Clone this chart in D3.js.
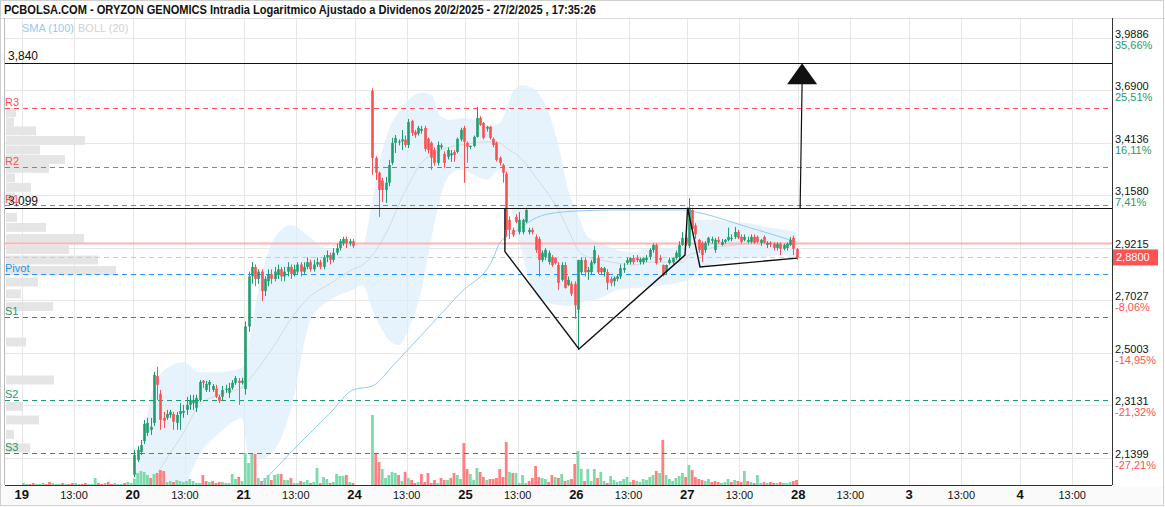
<!DOCTYPE html>
<html>
<head>
<meta charset="utf-8">
<script src="https://cdn.jsdelivr.net/npm/d3@7"></script>
<style>
  body { margin: 0; background: #fff; }
  svg { display: block; }
  text { font-family: "Liberation Sans", Arial, sans-serif; }
</style>
</head>
<body>
<svg id="chart" width="1165" height="507"></svg>
<script>
// ---- data ----
const title = "PCBOLSA.COM - ORYZON GENOMICS Intradia Logaritmico Ajustado a Dividenos 20/2/2025 - 27/2/2025 , 17:35:26";
const days = ["19", "20", "21", "24", "25", "26", "27", "28", "3", "4"];
const slotsPerDay = 34;          // 15 min candles, 9:00 - 17:30
const priceExtent = [2.056, 4.106];
const slotExtent = [-5.15, 334.2];

// candles [open, high, low, close]
const d19 = [[1.97,1.98,1.96,1.975],[1.975,1.99,1.97,1.98],[1.98,1.985,1.965,1.97],[1.97,1.98,1.96,1.965],[1.965,1.975,1.955,1.97],[1.97,1.98,1.96,1.975],[1.975,1.99,1.97,1.985],[1.985,1.99,1.97,1.975],[1.975,1.98,1.96,1.965],[1.965,1.975,1.955,1.97],[1.97,1.985,1.965,1.98],[1.98,1.99,1.975,1.985],[1.985,1.99,1.97,1.975],[1.975,1.985,1.965,1.98],[1.98,1.99,1.97,1.975],[1.975,1.98,1.96,1.97],[1.97,1.98,1.965,1.975],[1.975,1.99,1.97,1.985],[1.985,1.995,1.975,1.98],[1.98,1.99,1.97,1.975],[1.975,1.985,1.965,1.98],[1.98,1.99,1.975,1.985],[1.985,2.0,1.98,1.995],[1.995,2.0,1.98,1.985],[1.985,1.99,1.975,1.98],[1.98,1.995,1.975,1.99],[1.99,2.0,1.98,1.985],[1.985,1.99,1.975,1.98],[1.98,1.99,1.97,1.985],[1.985,1.995,1.98,1.99],[1.99,2.0,1.985,1.995],[1.995,2.0,1.98,1.985],[1.985,1.995,1.975,1.99],[1.99,2.0,1.98,1.995]];
const d20 = [[2.088,2.166,2.08,2.149],[2.134,2.178,2.127,2.166],[2.159,2.198,2.149,2.181],[2.194,2.264,2.185,2.251],[2.221,2.271,2.211,2.254],[2.231,2.271,2.214,2.241],[2.254,2.431,2.244,2.42],[2.416,2.449,2.332,2.385],[2.353,2.367,2.231,2.264],[2.271,2.291,2.237,2.261],[2.271,2.298,2.264,2.284],[2.281,2.298,2.271,2.291],[2.284,2.291,2.231,2.258],[2.254,2.291,2.231,2.281],[2.284,2.321,2.231,2.294],[2.288,2.315,2.271,2.294],[2.298,2.343,2.281,2.315],[2.315,2.35,2.298,2.332],[2.321,2.35,2.298,2.332],[2.305,2.35,2.291,2.339],[2.332,2.402,2.325,2.395],[2.399,2.402,2.374,2.392],[2.367,2.399,2.36,2.388],[2.385,2.402,2.36,2.395],[2.367,2.388,2.36,2.381],[2.371,2.385,2.339,2.343],[2.343,2.35,2.321,2.329],[2.343,2.381,2.332,2.367],[2.371,2.385,2.357,2.371],[2.357,2.392,2.339,2.374],[2.374,2.402,2.367,2.392],[2.392,2.416,2.385,2.409],[2.399,2.409,2.315,2.392],[2.392,2.41,2.386,2.399]];
const d21 = [[2.37,2.62,2.35,2.60],[2.60,2.82,2.58,2.80],[2.80,2.86,2.77,2.84],[2.84,2.85,2.76,2.79],[2.79,2.83,2.77,2.82],[2.82,2.83,2.70,2.74],[2.74,2.80,2.72,2.79],[2.78,2.83,2.76,2.81],[2.81,2.83,2.77,2.79],[2.79,2.84,2.78,2.82],[2.81,2.85,2.79,2.83],[2.83,2.84,2.78,2.80],[2.80,2.84,2.78,2.82],[2.82,2.86,2.80,2.84],[2.84,2.85,2.79,2.81],[2.81,2.85,2.80,2.83],[2.82,2.86,2.81,2.85],[2.85,2.86,2.80,2.82],[2.82,2.86,2.81,2.84],[2.84,2.88,2.83,2.86],[2.86,2.87,2.82,2.83],[2.83,2.87,2.82,2.85],[2.85,2.88,2.84,2.86],[2.86,2.87,2.83,2.84],[2.84,2.89,2.83,2.88],[2.88,2.91,2.86,2.89],[2.89,2.90,2.85,2.87],[2.87,2.92,2.86,2.90],[2.90,2.94,2.89,2.92],[2.92,2.96,2.91,2.95],[2.94,2.97,2.93,2.96],[2.96,2.97,2.92,2.94],[2.94,2.96,2.93,2.95],[2.95,2.96,2.92,2.93]];
const d24 = [null,null,null,null,null,[3.686,3.70,3.255,3.338],[3.338,3.345,3.23,3.265],[3.265,3.27,3.058,3.183],[3.226,3.241,3.127,3.183],[3.183,3.245,3.122,3.217],[3.217,3.328,3.20,3.303],[3.313,3.438,3.303,3.413],[3.413,3.453,3.362,3.438],[3.418,3.43,3.40,3.42],[3.42,3.479,3.377,3.43],[3.43,3.45,3.39,3.402],[3.402,3.536,3.387,3.52],[3.525,3.531,3.448,3.464],[3.469,3.479,3.438,3.453],[3.46,3.50,3.45,3.49],[3.474,3.50,3.46,3.484],[3.489,3.50,3.37,3.382],[3.433,3.44,3.36,3.377],[3.413,3.42,3.279,3.338],[3.377,3.39,3.30,3.313],[3.313,3.42,3.30,3.402],[3.39,3.41,3.38,3.40],[3.357,3.37,3.289,3.313],[3.343,3.39,3.33,3.377],[3.35,3.377,3.318,3.36],[3.367,3.377,3.318,3.352],[3.367,3.44,3.36,3.433],[3.43,3.49,3.42,3.479],[3.489,3.50,3.217,3.418]];
const d25 = [[3.413,3.42,3.313,3.393],[3.393,3.40,3.38,3.397],[3.397,3.45,3.39,3.443],[3.443,3.60,3.44,3.541],[3.541,3.55,3.50,3.505],[3.515,3.52,3.43,3.438],[3.485,3.50,3.47,3.495],[3.495,3.50,3.43,3.438],[3.433,3.44,3.39,3.402],[3.413,3.42,3.32,3.328],[3.338,3.345,3.30,3.313],[3.303,3.31,3.217,3.265],[3.26,3.27,2.97,3.00],[3.045,3.06,2.96,3.00],[3.00,3.01,2.97,2.978],[3.058,3.07,3.03,3.036],[2.99,3.08,2.98,3.045],[2.99,3.05,2.98,3.045],[3.036,3.10,3.03,3.09],[2.99,3.01,2.98,3.00],[3.00,3.01,2.98,2.99],[2.969,2.98,2.90,2.912],[2.96,2.97,2.80,2.869],[2.869,2.91,2.86,2.90],[2.882,2.92,2.87,2.912],[2.86,2.91,2.85,2.90],[2.882,2.89,2.84,2.848],[2.878,2.88,2.85,2.856],[2.848,2.86,2.745,2.774],[2.786,2.86,2.78,2.848],[2.848,2.86,2.75,2.753],[2.765,2.80,2.76,2.786],[2.77,2.78,2.72,2.729],[2.77,2.78,2.63,2.683]];
const d26 = [[2.665,2.87,2.511,2.869],[2.818,2.88,2.81,2.869],[2.869,2.88,2.80,2.818],[2.818,2.84,2.786,2.827],[2.818,2.87,2.81,2.86],[2.856,2.93,2.85,2.912],[2.878,2.89,2.81,2.818],[2.835,2.84,2.81,2.818],[2.818,2.84,2.80,2.835],[2.818,2.83,2.745,2.774],[2.79,2.80,2.76,2.774],[2.78,2.80,2.76,2.795],[2.79,2.81,2.78,2.80],[2.80,2.85,2.79,2.835],[2.827,2.856,2.815,2.835],[2.856,2.88,2.85,2.869],[2.86,2.88,2.85,2.878],[2.878,2.89,2.85,2.86],[2.878,2.89,2.86,2.869],[2.86,2.88,2.85,2.873],[2.86,2.88,2.85,2.878],[2.869,2.89,2.86,2.878],[2.882,2.92,2.87,2.912],[2.912,2.94,2.90,2.934],[2.934,2.94,2.85,2.856],[2.878,2.89,2.86,2.869],[2.848,2.85,2.80,2.805],[2.82,2.85,2.81,2.848],[2.856,2.88,2.85,2.869],[2.86,2.88,2.85,2.878],[2.878,2.91,2.87,2.90],[2.882,2.95,2.87,2.934],[2.934,2.99,2.93,2.965],[2.965,2.98,2.93,2.94]];
const d27 = [[2.93,3.145,2.92,3.10],[3.09,3.10,2.99,3.004],[3.02,3.03,2.96,2.98],[2.956,2.96,2.90,2.912],[2.943,2.95,2.86,2.89],[2.912,2.95,2.90,2.943],[2.943,2.97,2.93,2.965],[2.952,2.97,2.94,2.96],[2.912,2.965,2.90,2.956],[2.956,2.97,2.94,2.947],[2.934,2.96,2.93,2.947],[2.947,2.96,2.94,2.956],[2.956,3.01,2.95,2.969],[2.96,2.98,2.95,2.965],[2.969,3.013,2.96,2.991],[2.991,3.00,2.96,2.965],[2.969,2.98,2.94,2.947],[2.956,2.98,2.95,2.969],[2.947,2.97,2.94,2.956],[2.947,2.98,2.94,2.969],[2.969,2.98,2.94,2.943],[2.969,2.975,2.94,2.947],[2.943,2.96,2.93,2.956],[2.969,2.975,2.94,2.943],[2.934,2.95,2.92,2.943],[2.943,2.95,2.925,2.936],[2.939,2.945,2.91,2.921],[2.921,2.945,2.91,2.939],[2.939,2.945,2.89,2.917],[2.917,2.94,2.91,2.934],[2.921,2.945,2.91,2.939],[2.934,2.969,2.93,2.956],[2.965,2.975,2.89,2.917],[2.917,2.92,2.87,2.88]];

// volume per candle (thousands)
const v19 = [10,5,5,10,5,5,10,5,15,10,5,5,10,5,5,10,10,5,5,10,5,5,35,10,5,10,15,5,10,5,5,10,15,10];
const v20 = [30,60,70,65,50,35,55,60,75,70,15,20,15,25,20,15,20,30,20,10,10,50,20,15,20,10,15,15,10,10,55,30,40,20];
const v21 = [160,110,160,155,35,20,35,50,25,50,55,55,25,25,35,10,10,20,15,25,10,15,85,10,40,30,10,15,55,45,45,50,15,10];
const v24 = [0,0,0,0,0,350,160,115,80,35,50,65,60,50,20,65,35,25,10,15,55,15,60,10,25,10,35,25,25,35,60,50,30,210];
const v25 = [80,55,25,85,65,40,25,30,30,35,80,40,215,65,60,60,10,50,10,20,35,95,40,35,30,15,50,40,35,55,20,25,30,105];
const v26 = [170,80,20,80,20,80,35,65,20,10,45,25,15,20,30,40,15,25,20,15,30,25,40,50,70,60,225,50,30,20,35,45,60,40];
const v27 = [100,75,40,30,25,20,30,15,20,15,10,15,30,15,25,20,15,70,20,15,10,50,10,15,10,15,10,10,15,10,10,15,20,25];

// bollinger (20), sampled by candle index (day 19 = 0..33)
const bandIdx = [34,37,40,44,49,54,60,67,69,72,77,82,88,94,101,104,107,110,112,115,118,122,125,128,131,134,138,142,146,148,150,153,155,157,160,164,167,170,173,177,182,187,192,197,202,204,207,211,216,222,228,232,237];
const bandUp = [2.07,2.23,2.38,2.445,2.467,2.43,2.43,2.445,2.53,2.745,2.965,3.022,2.965,2.912,2.934,2.934,3.136,3.377,3.479,3.572,3.637,3.675,3.664,3.546,3.531,3.541,3.531,3.495,3.515,3.583,3.68,3.718,3.707,3.691,3.61,3.402,3.183,3.067,2.969,2.943,2.912,2.903,2.921,2.921,2.934,3.022,3.045,3.045,3.036,3.031,3.013,3.004,2.991];
const bandMid = [2.00,2.03,2.075,2.14,2.22,2.315,2.35,2.375,2.40,2.445,2.53,2.63,2.72,2.77,2.83,2.848,2.89,2.956,3.009,3.113,3.207,3.313,3.352,3.377,3.392,3.402,3.413,3.418,3.413,3.387,3.367,3.328,3.289,3.245,3.183,3.09,3.0,2.912,2.882,2.869,2.856,2.848,2.86,2.86,2.86,2.89,2.903,2.921,2.93,2.939,2.943,2.943,2.934];
const bandLo = [1.98,1.95,1.92,1.95,2.04,2.15,2.22,2.27,2.15,2.134,2.166,2.298,2.625,2.704,2.745,2.765,2.665,2.587,2.549,2.53,2.587,2.745,2.956,3.16,3.26,3.279,3.255,3.231,3.279,3.207,3.067,2.89,2.786,2.724,2.696,2.684,2.68,2.692,2.70,2.712,2.745,2.753,2.757,2.765,2.778,2.786,2.827,2.848,2.869,2.877,2.882,2.89,2.877];

// sma (100), sampled
const smaIdx = [70,85,94,101,107,114,124,134,144,146,152,156,161,171,182,202,206,211,216,222,227,232,237];
const smaVal = [2.03,2.19,2.287,2.367,2.381,2.463,2.594,2.733,2.877,2.943,3.004,3.045,3.072,3.086,3.09,3.09,3.081,3.063,3.04,3.013,2.991,2.969,2.947];

// pivots
const pivNames = ["R3", "R2", "R1", "Pivot", "S1", "S2", "S3"];
const pivVals = [3.594, 3.293, 3.113, 2.811, 2.637, 2.332, 2.156];

// volume profile (left)
const profPrice = [3.570,3.520,3.474,3.425,3.377,3.330,3.286,3.240,3.195,3.150,3.056,3.011,2.962,2.914,2.869,2.825,2.777,2.729,2.678,2.541,2.402,2.310,2.264,2.216,2.172];
const profVol = [100,80,300,790,340,590,430,90,250,90,110,400,780,630,920,1100,320,150,470,200,480,170,330,80,240];

// right axis
const tickVals = [3.9886, 3.69, 3.4136, 3.158, 2.9215, 2.7027, 2.5003, 2.3131, 2.1399];
const tickPct = ["35,66%", "25,51%", "16,11%", "7,41%", "-0,63%", "-8,06%", "-14,95%", "-21,32%", "-27,21%"];
const lastPrice = 2.88, prevClose = 2.94;

// drawn analysis (slot position, price)
const hLevels = [3.84, 3.099];
const hLabels = ["3,840", "3,099"];
const patSlot = [148.1, 148.1, 170.8, 203.3, 204.1, 207.9, 237.7];
const patVal = [3.099, 2.905, 2.515, 2.89, 3.10, 2.84, 2.877];
const arrowSlot = [238.6, 239.2], arrowFrom = 3.099, arrowTo = 3.84;

// ---- chart ----
const svg = d3.select("#chart");
const P = { l: 5, r: 1112, t: 18, b: 485 };
const green = "#1e9e6e", red = "#fb5050";

const x = d3.scaleLinear().domain(slotExtent).range([P.l, P.r]);
const y = d3.scaleLog().domain(priceExtent).range([P.b, P.t]);

svg.append("rect").attr("width", 1165).attr("height", 507).attr("fill", "#fff");

svg.append("defs").append("clipPath").attr("id", "clip")
  .append("rect").attr("x", P.l).attr("y", P.t).attr("width", P.r - P.l).attr("height", P.b - P.t);

// grid
const xTicks = [];
days.forEach((d, k) => {
  xTicks.push({ s: k * slotsPerDay, label: d, day: true });
  xTicks.push({ s: k * slotsPerDay + 16, label: "13:00", day: false });
});
const grid = svg.append("g");
grid.selectAll(".vg").data(xTicks.filter(t => x(t.s) > P.l && x(t.s) < P.r)).enter().append("line")
  .attr("x1", d => Math.round(x(d.s)) + 0.5).attr("x2", d => Math.round(x(d.s)) + 0.5)
  .attr("y1", P.t).attr("y2", P.b).attr("stroke", "#e7e7e7");
grid.selectAll(".hg").data(tickVals).enter().append("line")
  .attr("x1", P.l).attr("x2", P.r)
  .attr("y1", d => Math.round(y(d)) + 0.5).attr("y2", d => Math.round(y(d)) + 0.5)
  .attr("stroke", "#e7e7e7");

const main = svg.append("g").attr("clip-path", "url(#clip)");

// volume profile
const pw = d3.scaleLinear().domain([0, d3.max(profVol)]).range([0, 110]);
main.selectAll(".prof").data(profPrice).enter().append("rect")
  .attr("x", P.l + 1)
  .attr("y", d => y(d * 1.0066))
  .attr("width", (d, i) => pw(profVol[i]))
  .attr("height", d => y(d / 1.0066) - y(d * 1.0066))
  .attr("fill", "#e2e2e2").attr("opacity", 0.9);

// bollinger band
const band = bandIdx.map((k, i) => ({ k: k, up: bandUp[i], mid: bandMid[i], lo: bandLo[i] }));
main.append("path").datum(band)
  .attr("d", d3.area().x(d => x(d.k + 0.5)).y0(d => y(d.lo)).y1(d => y(d.up)).curve(d3.curveMonotoneX))
  .attr("fill", "#dbeefc").attr("opacity", 0.7);
main.append("path").datum(band)
  .attr("d", d3.line().x(d => x(d.k + 0.5)).y(d => y(d.mid)).curve(d3.curveMonotoneX))
  .attr("fill", "none").attr("stroke", "#d9d9d9").attr("stroke-width", 1);

// candles list
const candles = [];
[d19, d20, d21, d24, d25, d26, d27].forEach((arr, k) => {
  const vols = [v19, v20, v21, v24, v25, v26, v27][k];
  arr.forEach((c, j) => {
    if (c) candles.push({ s: k * slotsPerDay + j, o: c[0], h: c[1], l: c[2], c: c[3], v: vols[j] });
  });
});
candles.forEach((d, i) => { d.up = i === 0 ? true : d.c >= candles[i - 1].c; });

// volume bars
const yv = d3.scaleLinear().domain([0, d3.max(candles, d => d.v)]).range([P.b, P.b - 70]);
main.selectAll(".vol").data(candles).enter().append("rect")
  .attr("x", d => x(d.s + 0.5) - 1.4).attr("width", 2.8)
  .attr("y", d => yv(d.v)).attr("height", d => P.b - yv(d.v))
  .attr("fill", d => d.up ? "#7fdaaa" : "#ff8080");

// pivot lines
const pivColor = n => n[0] === "R" ? "#ff5252" : n[0] === "P" ? "#2196f3" : "#1f9a6c";
main.selectAll(".piv").data(pivVals).enter().append("line")
  .attr("x1", P.l).attr("x2", P.r)
  .attr("y1", d => Math.round(y(d)) + 0.5).attr("y2", d => Math.round(y(d)) + 0.5)
  .attr("stroke", (d, i) => pivColor(pivNames[i])).attr("stroke-dasharray", "5,4");

// previous close and last price
main.append("line").attr("x1", P.l).attr("x2", P.r).attr("y1", y(prevClose)).attr("y2", y(prevClose))
  .attr("stroke", "#ffb3b3").attr("stroke-width", 2);
main.append("line").attr("x1", P.l).attr("x2", P.r).attr("y1", y(lastPrice)).attr("y2", y(lastPrice))
  .attr("stroke", "#a8dcc0").attr("stroke-dasharray", "5,4");

// sma
main.append("path").datum(smaIdx.map((k, i) => [k, smaVal[i]]))
  .attr("d", d3.line().x(d => x(d[0] + 0.5)).y(d => y(d[1])).curve(d3.curveMonotoneX))
  .attr("fill", "none").attr("stroke", "#90caf9").attr("stroke-width", 1);

// candles
const cg = main.append("g");
cg.selectAll(".wick").data(candles).enter().append("line")
  .attr("x1", d => Math.round(x(d.s + 0.5)) + 0.5).attr("x2", d => Math.round(x(d.s + 0.5)) + 0.5)
  .attr("y1", d => y(d.h)).attr("y2", d => y(d.l))
  .attr("stroke", d => d.c >= d.o ? green : red);
cg.selectAll(".body").data(candles).enter().append("rect")
  .attr("x", d => Math.round(x(d.s + 0.5)) - 0.8).attr("width", 2.6)
  .attr("y", d => y(Math.max(d.o, d.c)))
  .attr("height", d => Math.max(1, y(Math.min(d.o, d.c)) - y(Math.max(d.o, d.c))))
  .attr("fill", d => d.c >= d.o ? green : red);

// drawn lines
main.selectAll(".hl").data(hLevels).enter().append("line")
  .attr("x1", P.l).attr("x2", P.r)
  .attr("y1", d => Math.round(y(d)) + 0.5).attr("y2", d => Math.round(y(d)) + 0.5)
  .attr("stroke", "#111").attr("stroke-width", 1.2);
main.append("path").datum(patSlot.map((s, i) => [s, patVal[i]]))
  .attr("d", d3.line().x(d => x(d[0])).y(d => y(d[1])))
  .attr("fill", "none").attr("stroke", "#111").attr("stroke-width", 1.4);
const ax0 = x(arrowSlot[0]), ax = x(arrowSlot[1]), ay = y(arrowTo);
main.append("line").attr("x1", ax0).attr("x2", ax).attr("y1", y(arrowFrom)).attr("y2", ay + 20)
  .attr("stroke", "#111").attr("stroke-width", 1.2);
main.append("path").attr("d", `M${ax},${ay}L${ax - 15},${ay + 21}L${ax + 15},${ay + 21}Z`).attr("fill", "#111");

// labels on plot
svg.selectAll(".hlab").data(hLevels).enter().append("text")
  .attr("x", 8).attr("y", d => y(d) - 3).attr("font-size", 12).attr("fill", "#111")
  .text((d, i) => hLabels[i]);
svg.selectAll(".plab").data(pivVals).enter().append("text")
  .attr("x", 5).attr("y", d => y(d) - 2).attr("font-size", 11)
  .attr("fill", (d, i) => pivColor(pivNames[i]))
  .text((d, i) => pivNames[i]);

svg.append("text").attr("x", 22).attr("y", 32).attr("font-size", 11).attr("fill", "#90caf9").text("SMA (100)");
svg.append("text").attr("x", 78).attr("y", 32).attr("font-size", 11).attr("fill", "#d2d2d2").text("BOLL (20)");

// frame
svg.append("line").attr("x1", 0).attr("x2", 1165).attr("y1", P.t + 0.5).attr("y2", P.t + 0.5).attr("stroke", "#ddd");
svg.append("line").attr("x1", P.l - 0.5).attr("x2", P.l - 0.5).attr("y1", P.t).attr("y2", P.b).attr("stroke", "#bbb");
svg.append("line").attr("x1", P.r + 0.5).attr("x2", P.r + 0.5).attr("y1", P.t).attr("y2", P.b).attr("stroke", "#333");
svg.append("rect").attr("x", 0).attr("y", P.b + 1).attr("width", 1165).attr("height", 507 - P.b - 1).attr("fill", "#fafafa");
svg.append("line").attr("x1", P.l).attr("x2", P.r).attr("y1", P.b + 0.5).attr("y2", P.b + 0.5).attr("stroke", "#333");
svg.append("rect").attr("x", 0.5).attr("y", 0.5).attr("width", 1163).attr("height", 505)
  .attr("fill", "none").attr("stroke", "#cfcfcf");

// title
svg.append("text").attr("x", 4).attr("y", 14).attr("font-size", 12.5).attr("font-weight", "bold")
  .attr("fill", "#111").attr("textLength", 592).attr("lengthAdjust", "spacingAndGlyphs").text(title);

// x axis labels
svg.selectAll(".xl").data(xTicks.filter(t => x(t.s) < P.r - 10)).enter().append("text")
  .attr("x", d => x(d.s)).attr("y", 499).attr("text-anchor", "middle")
  .attr("font-size", d => d.day ? 13 : 11).attr("font-weight", d => d.day ? "bold" : "normal")
  .attr("fill", "#111").text(d => d.label);

// right axis
const ra = svg.append("g");
ra.selectAll(".tv").data(tickVals).enter().append("text")
  .attr("x", P.r + 3).attr("y", d => y(d)).attr("font-size", 11).attr("fill", "#111")
  .text(d => d.toFixed(4).replace(".", ","));
ra.selectAll(".tp").data(tickVals).enter().append("text")
  .attr("x", P.r + 3).attr("y", d => y(d) + 11).attr("font-size", 11)
  .attr("fill", (d, i) => tickPct[i][0] === "-" ? "#ff5252" : "#1f9a6c")
  .text((d, i) => tickPct[i]);
ra.append("rect").attr("x", P.r + 1).attr("y", y(lastPrice) - 8).attr("width", 45).attr("height", 16).attr("fill", "#ff5252");
ra.append("text").attr("x", P.r + 4).attr("y", y(lastPrice) + 4).attr("font-size", 11).attr("fill", "#fff")
  .text(lastPrice.toFixed(4).replace(".", ","));
</script>
</body>
</html>
